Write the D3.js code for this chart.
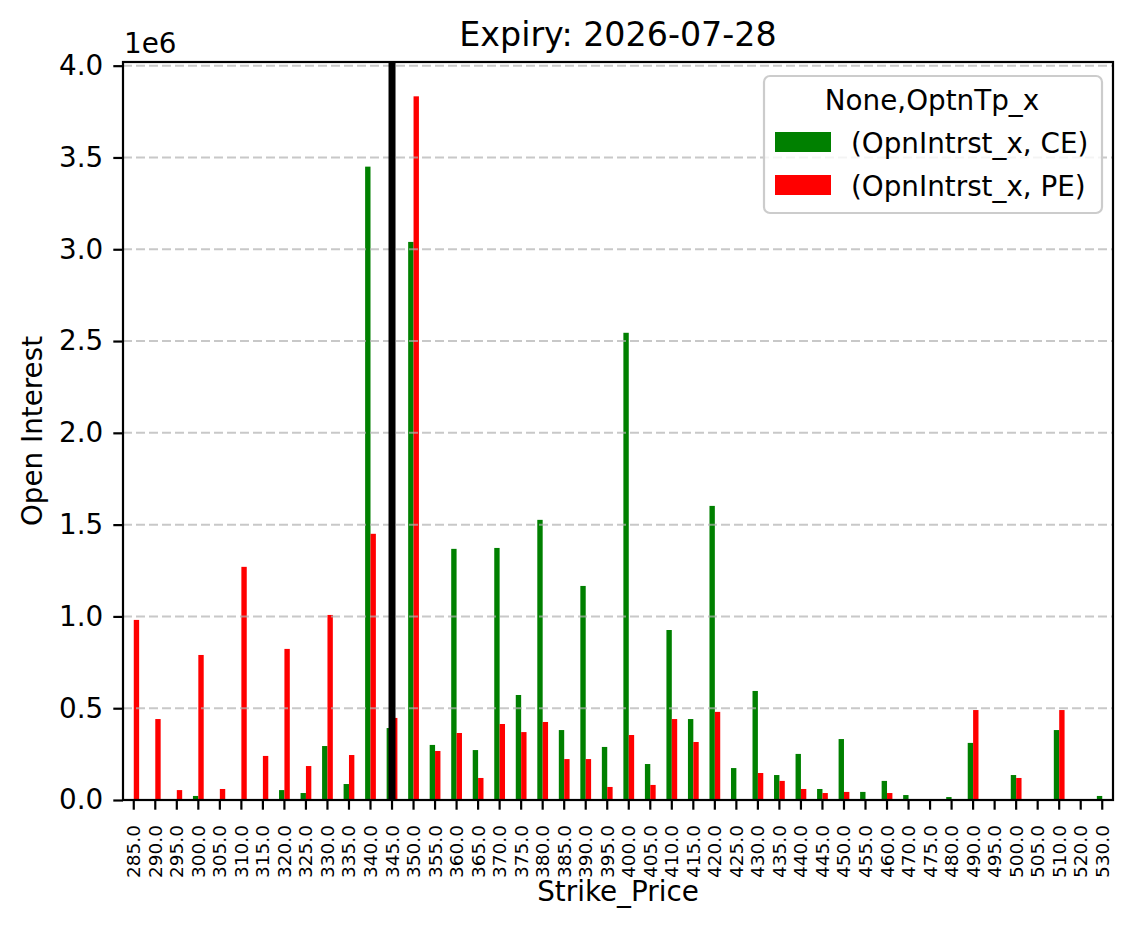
<!doctype html>
<html>
<head>
<meta charset="utf-8">
<title>Expiry: 2026-07-28</title>
<style>
  body { margin: 0; background: #fff; }
  text { font-family: "DejaVu Sans", sans-serif; fill: #000; }
</style>
</head>
<body>
<div id="here"></div>
<script src="https://d3js.org/d3.v7.min.js"></script>
<script>
// strikes on the x axis (categories)
var strikes = [285, 290, 295, 300, 305, 310, 315, 320, 325, 330, 335, 340, 345, 350, 355,
  360, 365, 370, 375, 380, 385, 390, 395, 400, 405, 410, 415, 420, 425, 430, 435,
  440, 445, 450, 455, 460, 470, 475, 480, 490, 495, 500, 505, 510, 520, 530];

// open interest, CE (calls) in millions
var ce = [0, 0, 0, 0.022, 0, 0, 0, 0.054, 0.038, 0.294, 0.087, 3.45, 0.392, 3.04, 0.300,
  1.368, 0.272, 1.373, 0.572, 1.526, 0.381, 1.166, 0.289, 2.545, 0.196, 0.926, 0.441, 1.602, 0.174, 0.594, 0.136,
  0.251, 0.060, 0.332, 0.044, 0.104, 0.027, 0, 0.016, 0.311, 0, 0.136, 0, 0.381, 0, 0.022];

// open interest, PE (puts) in millions
var pe = [0.981, 0.441, 0.054, 0.790, 0.060, 1.270, 0.240, 0.823, 0.185, 1.008, 0.245, 1.45, 0.447, 3.833, 0.267,
  0.365, 0.120, 0.414, 0.370, 0.425, 0.223, 0.223, 0.071, 0.354, 0.082, 0.441, 0.316, 0.480, 0, 0.147, 0.104,
  0.060, 0.038, 0.044, 0.005, 0.038, 0, 0, 0, 0.490, 0, 0.120, 0, 0.490, 0, 0];

var yTicks = [0, 0.5, 1.0, 1.5, 2.0, 2.5, 3.0, 3.5, 4.0];
var spotStrike = 345;

var W = 1134, H = 928;
// plot area (note: "top" is a reserved global in browsers)
var x0 = 123, x1 = 1113, yTop = 62, yBot = 800;

var svg = d3.select("#here").append("svg")
  .attr("width", W)
  .attr("height", H);

var x = d3.scaleBand().domain(strikes).range([x0, x1]).padding(0);
var bw = x.bandwidth();
var cx = function(s) { return x(s) + bw / 2; };

var y = d3.scaleLinear().domain([0, 4.02]).range([yBot, yTop]);

// bars first, grid on top like matplotlib does
var rows = strikes.map(function(s, i) { return { s: s, ce: ce[i], pe: pe[i] }; });

svg.selectAll("rect.ce")
  .data(rows)
  .enter().append("rect")
  .attr("class", "ce")
  .attr("x", function(d) { return cx(d.s) - bw * 0.25; })
  .attr("y", function(d) { return y(d.ce); })
  .attr("width", bw * 0.25)
  .attr("height", function(d) { return yBot - y(d.ce); })
  .attr("fill", "#008000");

svg.selectAll("rect.pe")
  .data(rows)
  .enter().append("rect")
  .attr("class", "pe")
  .attr("x", function(d) { return cx(d.s); })
  .attr("y", function(d) { return y(d.pe); })
  .attr("width", bw * 0.25)
  .attr("height", function(d) { return yBot - y(d.pe); })
  .attr("fill", "#ff0000");

// horizontal grid
svg.append("g")
  .selectAll("line")
  .data(yTicks)
  .enter().append("line")
  .attr("x1", x0).attr("x2", x1)
  .attr("y1", function(d) { return y(d); })
  .attr("y2", function(d) { return y(d); })
  .attr("stroke", "#b0b0b0")
  .attr("stroke-opacity", 0.7)
  .attr("stroke-width", 2)
  .attr("stroke-dasharray", "9,4");

// spot line
svg.append("line")
  .attr("x1", cx(spotStrike)).attr("x2", cx(spotStrike))
  .attr("y1", yTop).attr("y2", yBot)
  .attr("stroke", "#000")
  .attr("stroke-width", 7);

// y axis
var yAxis = svg.append("g")
  .attr("transform", "translate(" + x0 + ",0)")
  .call(d3.axisLeft(y).tickValues(yTicks).tickFormat(d3.format(".1f")).tickSize(9.7).tickPadding(10));
yAxis.select(".domain").remove();
yAxis.selectAll("line").attr("stroke", "#000").attr("stroke-width", 2.2);
yAxis.selectAll("text")
  .attr("font-family", "DejaVu Sans")
  .attr("font-size", 27.8)
  .attr("fill", "#000");

// x axis
var xAxis = svg.append("g")
  .attr("transform", "translate(0," + yBot + ")")
  .call(d3.axisBottom(x).tickSize(9.7).tickFormat(function(d) { return d.toFixed(1); }));
xAxis.select(".domain").remove();
xAxis.selectAll("line").attr("stroke", "#000").attr("stroke-width", 2.2);
xAxis.selectAll("text")
  .attr("font-family", "DejaVu Sans")
  .attr("font-size", 18.5)
  .attr("fill", "#000")
  .attr("text-anchor", "end")
  .attr("dy", null)
  .attr("y", 0)
  .attr("transform", "translate(6.5,25) rotate(-90)");

// frame
svg.append("rect")
  .attr("x", x0).attr("y", yTop)
  .attr("width", x1 - x0).attr("height", yBot - yTop)
  .attr("fill", "none")
  .attr("stroke", "#000")
  .attr("stroke-width", 2.2);

// labels
svg.append("text")
  .attr("x", (x0 + x1) / 2).attr("y", 46)
  .attr("text-anchor", "middle")
  .attr("font-size", 33.3)
  .text("Expiry: 2026-07-28");

svg.append("text")
  .attr("x", 124).attr("y", 53)
  .attr("font-size", 27.8)
  .text("1e6");

svg.append("text")
  .attr("x", (x0 + x1) / 2).attr("y", 901)
  .attr("text-anchor", "middle")
  .attr("font-size", 27.8)
  .text("Strike_Price");

svg.append("text")
  .attr("transform", "translate(42," + ((yTop + yBot) / 2) + ") rotate(-90)")
  .attr("text-anchor", "middle")
  .attr("font-size", 27.8)
  .text("Open Interest");

// legend
var lg = svg.append("g");
lg.append("rect")
  .attr("x", 764).attr("y", 76)
  .attr("width", 338).attr("height", 137)
  .attr("rx", 6)
  .attr("fill", "#fff").attr("fill-opacity", 0.8)
  .attr("stroke", "#cccccc").attr("stroke-width", 2.2);
lg.append("text")
  .attr("x", 932).attr("y", 110)
  .attr("text-anchor", "middle")
  .attr("font-size", 27.8)
  .text("None,OptnTp_x");

var legendItems = [
  { label: "(OpnIntrst_x, CE)", color: "#008000" },
  { label: "(OpnIntrst_x, PE)", color: "#ff0000" }
];
var item = lg.selectAll("g.item")
  .data(legendItems)
  .enter().append("g")
  .attr("class", "item")
  .attr("transform", function(d, i) { return "translate(0," + (i * 43) + ")"; });
item.append("rect")
  .attr("x", 775).attr("y", 132)
  .attr("width", 56).attr("height", 20)
  .attr("fill", function(d) { return d.color; });
item.append("text")
  .attr("x", 851).attr("y", 152.5)
  .attr("font-size", 27.8)
  .text(function(d) { return d.label; });
</script>
</body>
</html>
